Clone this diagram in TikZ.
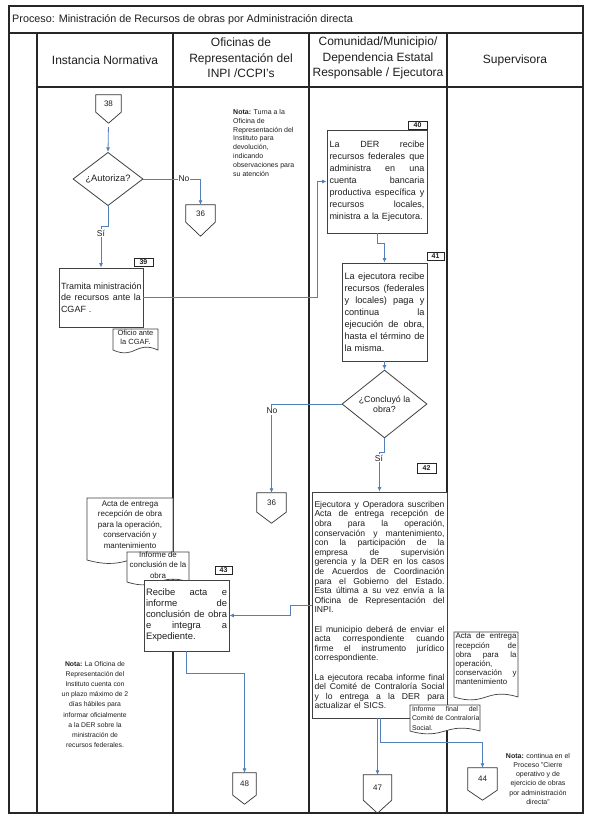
\documentclass[tikz,border=0pt]{standalone}
\usepackage{fontspec}
\setmainfont{Liberation Sans}
\usetikzlibrary{arrows.meta,shapes.geometric,calc}
\definecolor{flowc}{RGB}{84,128,186}
\definecolor{inkc}{RGB}{30,30,30}
\newcommand\jl[1]{\noindent\hbox to \hsize{\spaceskip=0.278em plus 1fil\relax #1}}
\newcommand\offpage[7]{%
  \node[inner sep=0pt, minimum width=#4pt, minimum height=#5pt, font=\fontsize{8}{9}\selectfont, text=inkc] (#1) at (#2,{#3+#5/2}) {#7};
  \coordinate (#1-tip) at ($(#1.south)+(0,#6)$);
  \draw[cshape] (#1.north west) -- (#1.north east) -- (#1.south east) -- (#1-tip) -- (#1.south west) -- cycle;
}
\newcommand\docshape[5]{%
  \draw[docl] (#1,#2) -- (#3,#2) -- (#3,#4) .. controls ({(#1+#3)/2},{#4-2*#5}) and ({(#1+#3)/2},{#4+2*#5}) .. (#1,#4) -- cycle;
}
\begin{document}
\begin{tikzpicture}[x=1pt,y=-1pt,
  lanel/.style={draw=black!85,line width=1.1pt},
  hdr/.style={font=\fontsize{12}{15.5}\selectfont,align=center,inner sep=0pt,text=inkc},
  box/.style={draw=black!75,line width=0.8pt,fill=white,inner ysep=2pt,align=left,text=inkc},
  flow/.style={draw=flowc,line width=0.8pt},
  arr/.style={flow,-{Latex[length=4.5pt,width=4pt]}},
  tag/.style={draw=black!85,line width=0.7pt,font=\fontsize{7}{7}\bfseries\selectfont,inner sep=0pt,fill=white,text=inkc},
  dec/.style={draw=black!75,line width=0.8pt,diamond,inner sep=0pt,fill=white,text=inkc},
  lbl/.style={fill=white,inner sep=1pt,font=\fontsize{8.5}{9}\selectfont,text=inkc},
  cshape/.style={draw=black!80,line width=0.7pt},
  docl/.style={draw=black!75,line width=0.7pt,fill=white},
  dtext/.style={inner sep=0pt,text=inkc},
  note/.style={inner sep=0pt,text=inkc},
  ]
\useasboundingbox (0,0) rectangle (590,820);
\fill[white] (0,0) rectangle (590,820);

% frame and lanes
\draw[lanel] (9,6) rectangle (583,813);
\draw[lanel] (9,33) -- (583,33);
\draw[lanel] (37,87) -- (583,87);
\foreach \lx in {37,173,309,447} {\draw[lanel] (\lx,33) -- (\lx,813);}

\node[anchor=west,inner sep=0pt,font=\fontsize{10.8}{13}\selectfont,text=inkc] (title) at (12,20) {Proceso: Ministración de Recursos de obras por Administración directa};
\node[hdr] (hN) at (105,60) {Instancia Normativa};
\node[hdr] (hO) at (241,58) {Oficinas de\\Representación del\\INPI /CCPI's};
\node[hdr] (hC) at (378,58) {Comunidad/Municipio/\\Dependencia Estatal\\Responsable / Ejecutora};
\node[hdr] (hS) at (515,60) {Supervisora};

% notes
\node[note,anchor=north west,align=left,font=\fontsize{7}{8.9}\selectfont] (n1) at (233,109) {\textbf{Nota:} Turna a la\\Oficina de\\Representación del\\Instituto para\\devolución,\\indicando\\observaciones para\\su atención};
\node[note,anchor=north,align=center,font=\fontsize{6.8}{10.2}\selectfont] (n2) at (95,661) {\textbf{Nota:} La Oficina de\\Representación del\\Instituto cuenta con\\un plazo máximo de 2\\días hábiles para\\informar oficialmente\\a la DER sobre la\\ministración de\\recursos federales.};
\node[note,anchor=north,align=center,font=\fontsize{7}{9.2}\selectfont] (n3) at (538,753) {\textbf{Nota:} continua en el\\Proceso "Cierre\\operativo y de\\ejercicio de obras\\por administración\\directa"};

% off-page connectors
\offpage{c38}{108.5}{95}{25}{17}{11}{38}
\offpage{c36a}{200.5}{205}{29}{17}{14}{36}
\offpage{c36b}{271.5}{493}{29}{19}{11}{36}
\offpage{c48}{244.5}{773}{23}{22}{9}{48}
\offpage{c47}{377.5}{775}{28}{25}{13}{47}
\offpage{c44}{482.5}{768}{29}{22}{10}{44}

% decisions
\node[dec,minimum width=70pt,minimum height=52pt,font=\fontsize{9.3}{10}\selectfont] (d1) at (108,179) {¿Autoriza?};
\node[dec,minimum width=85pt,minimum height=58pt,font=\fontsize{8.8}{10}\selectfont,align=center] (d2) at (384.5,404) {¿Concluyó la\\obra?};

% process boxes
\node[box,text width=80pt,inner xsep=2pt,minimum height=59pt,font=\fontsize{9}{11.7}\selectfont] (b39) at (101,297.5)
 {\jl{Tramita ministración}\\\jl{de recursos ante la}\\CGAF .};
\node[box,text width=95pt,inner xsep=2.5pt,minimum height=103pt,font=\fontsize{9}{12}\selectfont] (b40) at (377,181.5)
 {\jl{La DER recibe}\\\jl{recursos federales que}\\\jl{administra en una}\\\jl{cuenta bancaria}\\\jl{productiva específica y}\\\jl{recursos locales,}\\ministra a la Ejecutora.};
\node[box,text width=80pt,inner xsep=2.5pt,minimum height=98pt,font=\fontsize{9.2}{12}\selectfont] (b41) at (384.5,312)
 {\jl{La ejecutora recibe}\\\jl{recursos (federales}\\\jl{y locales) paga y}\\\jl{continua la}\\\jl{ejecución de obra,}\\\jl{hasta el término de}\\la misma.};

% documents (left lanes)
\docshape{113}{329}{158}{350}{5}
\node[dtext,anchor=north,align=center,font=\fontsize{7.5}{9.8}\selectfont] (doc1) at (135.5,329.5) {Oficio ante\\la CGAF.};
\docshape{87}{498}{173}{560}{6}
\node[dtext,anchor=north,align=center,font=\fontsize{8}{10.5}\selectfont] (doc2) at (130,500) {Acta de entrega\\recepción de obra\\para la operación,\\conservación y\\mantenimiento};
\docshape{127}{552}{189}{582}{5}
\node[dtext,anchor=north,align=center,font=\fontsize{7.9}{10.5}\selectfont] (doc3) at (158,551.5) {Informe de\\conclusión de la\\obra};

\node[box,text width=130pt,inner xsep=2.5pt,minimum height=226pt,font=\fontsize{8.6}{9.6}\selectfont] (b42) at (379.5,605)
 {\jl{Ejecutora y Operadora suscriben}\\\jl{Acta de entrega recepción de}\\\jl{obra para la operación,}\\\jl{conservación y mantenimiento,}\\\jl{con la participación de la}\\\jl{empresa de supervisión}\\\jl{gerencia y la DER en los casos}\\\jl{de Acuerdos de Coordinación}\\\jl{para el Gobierno del Estado.}\\\jl{Esta última a su vez envía a la}\\\jl{Oficina de Representación del}\\INPI.\\[9.6pt]
 \jl{El municipio deberá de enviar el}\\\jl{acta correspondiente cuando}\\\jl{firme el instrumento jurídico}\\correspondiente.\\[9.6pt]
 \jl{La ejecutora recaba informe final}\\\jl{del Comité de Contraloría Social}\\\jl{y lo entrega a la DER para}\\actualizar el SICS.};
\node[box,text width=81pt,inner xsep=2pt,minimum height=71pt,font=\fontsize{9.4}{11}\selectfont] (b43) at (186.5,615.5)
 {\jl{Recibe acta e}\\\jl{informe de}\\\jl{conclusión de obra}\\\jl{e integra a}\\Expediente.};

% documents (supervisora)
\docshape{454}{632}{518}{697}{5}
\node[dtext,anchor=north,align=left,text width=61pt,font=\fontsize{7.9}{9.2}\selectfont] (doc4) at (486,633) {\jl{Acta de entrega}\\\jl{recepción de}\\\jl{obra para la}\\operación,\\\jl{conservación y}\\mantenimiento};

% tags
\node[tag,minimum width=19pt,minimum height=8pt] (t39) at (143.5,262) {39};
\node[tag,minimum width=19pt,minimum height=8pt] (t40) at (417.5,125) {40};
\node[tag,minimum width=17pt,minimum height=8pt] (t41) at (435.5,256) {41};
\node[tag,minimum width=19pt,minimum height=10pt] (t42) at (426.5,468) {42};
\node[tag,minimum width=17pt,minimum height=8pt] (t43) at (223.5,570) {43};

% connectors
\draw[arr,shorten <=4pt] (c38-tip) -- (d1.north);
\draw[arr] (d1.east) -| (c36a.north);
\node[lbl] (no1) at (184,179) {No};
\draw[arr] (d1.south) -- (108,226) -| (b39.north);
\node[lbl] (si1) at (101,233) {Sí};
\draw[arr] (b39.east) -- (317,297.5) |- (b40.west);
\draw[arr] (b40.south) -- (377,243) -| (b41.north);
\draw[arr] (b41.south) -- (d2.north);
\draw[arr] (d2.west) -| (c36b.north);
\node[lbl] (no2) at (272,411) {No};
\draw[arr] (d2.south) -- (384.5,452) -| (b42.north);
\node[lbl] (si2) at (379,458) {Sí};
\draw[arr] (b42.west) -- (290,605) |- (b43.east);
\draw[arr] (b43.south) -- (186.5,673) -| (c48.north);
\draw[arr] ([xshift=-2pt]b42.south) -- (c47.north);
\draw[arr] ([xshift=1pt]b42.south) |- (c44.north |- 0,742) -- (c44.north);

% informe final document, on top of box 42 corner and lane line
\docshape{410}{705}{480}{731}{5}
\node[dtext,anchor=north,align=left,text width=66pt,font=\fontsize{6.9}{9.5}\selectfont] (doc5) at (445,706) {\jl{Informe final del}\\\jl{Comité de Contraloría}\\Social.};
\end{tikzpicture}
\end{document}
